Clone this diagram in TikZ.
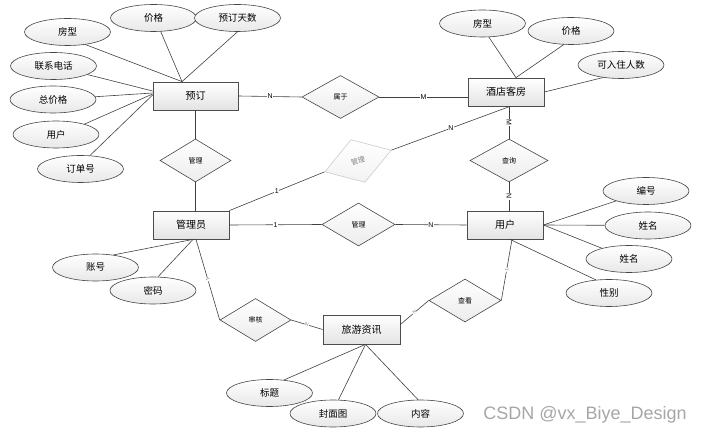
\documentclass[tikz,border=0pt]{standalone}
\usepackage{fontspec}
\setmainfont{Liberation Sans}
\newfontfamily\cjk{Noto Sans CJK SC}
\usetikzlibrary{shapes.geometric,shadows}
\begin{document}
\begin{tikzpicture}[x=1pt,y=-1pt,
 ent/.style={draw=gray!60!black, line width=0.8pt, top color=white, bottom color=gray!22, minimum width=76pt, minimum height=28pt, inner sep=0pt, font=\cjk\fontsize{10}{12}\selectfont, drop shadow={opacity=0.25, shadow xshift=1pt, shadow yshift=-1pt}},
 attr/.style={ellipse, draw=gray!55!black, line width=0.6pt, top color=white, bottom color=gray!18, minimum width=86pt, minimum height=27pt, inner sep=0pt, font=\cjk\fontsize{9.5}{11}\selectfont},
 rel/.style={diamond, draw=gray!55!black, line width=0.6pt, top color=white, bottom color=gray!15, minimum width=72pt, minimum height=43pt, inner sep=0pt, font=\cjk\fontsize{7}{8}\selectfont},
 conn/.style={draw=black!75, line width=0.6pt},
 card/.style={fill=white, inner sep=0.6pt, font=\fontsize{7}{8}\selectfont},
 tcard/.style={sloped, fill=white, inner sep=0.4pt, text=gray, font=\fontsize{5}{5}\selectfont}
]
\useasboundingbox (0,0) rectangle (702,435);

% entities
\node[ent, minimum width=85pt] (yd) at (195.5,96) {预订};
\node[ent] (jd) at (506,92) {酒店客房};
\node[ent] (gly) at (191,225) {管理员};
\node[ent] (yh) at (505,225) {用户};
\node[ent, minimum width=77pt, minimum height=29pt] (ly) at (361.5,329.5) {旅游资讯};

% relationships
\node[rel, minimum width=77pt] (sy) at (340.5,97) {属于};
\node[rel, minimum width=71pt] (gl1) at (195.5,160.5) {管理};
\node[rel, draw=gray!40, bottom color=gray!10, text=gray, rotate=18, minimum width=70pt, minimum height=45pt] (gm) at (358,161) {管理};
\node[rel, minimum width=78pt] (cx) at (509,160.5) {查询};
\node[rel, minimum width=73pt] (gm2) at (358.5,224.5) {管理};
\node[rel, minimum width=71pt] (sh) at (255.5,320) {审核};
\node[rel] (ck) at (465,300.5) {查看};

% attributes
\node[attr] (a1) at (67.5,32) {房型};
\node[attr] (a2) at (153.5,18) {价格};
\node[attr] (a3) at (237.5,18) {预订天数};
\node[attr] (a4) at (53.5,66) {联系电话};
\node[attr] (a5) at (53,99.5) {总价格};
\node[attr] (a6) at (56,134.5) {用户};
\node[attr] (a7) at (80.5,169) {订单号};
\node[attr] (b1) at (482.5,23.5) {房型};
\node[attr] (b2) at (571,31) {价格};
\node[attr] (b3) at (621,65) {可入住人数};
\node[attr] (c1) at (95.5,267.5) {账号};
\node[attr] (c2) at (153,290.5) {密码};
\node[attr] (d1) at (646,191) {编号};
\node[attr] (d2) at (648,225.5) {姓名};
\node[attr] (d3) at (629,259) {姓名};
\node[attr] (d4) at (609,293) {性别};
\node[attr] (e1) at (269.5,393) {标题};
\node[attr] (e2) at (333,413.5) {封面图};
\node[attr] (e3) at (420.5,413.5) {内容};

% attribute links
\draw[conn] (a1.-35) -- ([xshift=-13.5pt]yd.north);
\draw[conn] (a2.-62) -- ([xshift=-13.5pt]yd.north);
\draw[conn] (a3.south) -- ([xshift=-13.5pt]yd.north);
\draw[conn] (a4) -- ([yshift=5pt]yd.west);
\draw[conn] (a5) -- ([yshift=3pt]yd.west);
\draw[conn] (a6.20) -- ([yshift=2pt]yd.west);
\draw[conn] (a7.55) -- ([yshift=1pt]yd.west);
\draw[conn] (b1.-65) -- ([xshift=10pt]jd.north);
\draw[conn] (b2.-118) -- ([xshift=10pt]jd.north);
\draw[conn] (b3.-145) -- (jd.east);
\draw[conn] (c1.35) -- ([xshift=2pt]gly.south);
\draw[conn] (c2.70) -- ([xshift=2pt]gly.south);
\draw[conn] (d1) -- (yh.east);
\draw[conn] (d2) -- (yh.east);
\draw[conn] (d3) -- (yh.east);
\draw[conn] (d4.135) -- ([xshift=5pt]yh.south);
\draw[conn] (e1.42) -- ([xshift=4pt]ly.south);
\draw[conn] (e2.68) -- ([xshift=4pt]ly.south);
\draw[conn] (e3.100) -- ([xshift=4pt]ly.south);

% relationship links
\draw[conn] (yd.east) -- node[card]{N} (sy.west);
\draw[conn] (sy.east) -- node[card]{M} (sy.east -| jd.west);
\draw[conn] (gl1.north |- yd.south) -- (gl1.north);
\draw[conn] (gl1.south) -- (gl1.south |- gly.north);
\draw[conn] (gly.north east) -- node[card]{1} (gm.west);
\draw[conn] (gm.east) -- node[card]{N} ([xshift=4pt]jd.south);
\draw[conn] (cx.north |- jd.south) -- node[card, rotate=-90]{M} (cx.north);
\draw[conn] (cx.south) -- node[card, rotate=-90]{N} (cx.south |- yh.north);
\draw[conn] (gly.east) -- node[card]{1} (gm2.west);
\draw[conn] (gm2.east) -- node[card]{N} (yh.west);
\draw[conn] ([xshift=5pt]gly.south) -- node[tcard]{1} (sh.west);
\draw[conn] (sh.east) -- node[tcard]{N} (ly.west);
\draw[conn] ([yshift=5pt]ly.east) -- node[tcard]{N} (ck.west);
\draw[conn] (ck.east) -- node[tcard]{1} ([xshift=7pt]yh.south);

% watermark
\node[text=gray!70, font=\fontsize{18}{20}\selectfont, anchor=center] (wm) at (585,415) {CSDN @vx\_Biye\_Design};
\end{tikzpicture}
\end{document}
